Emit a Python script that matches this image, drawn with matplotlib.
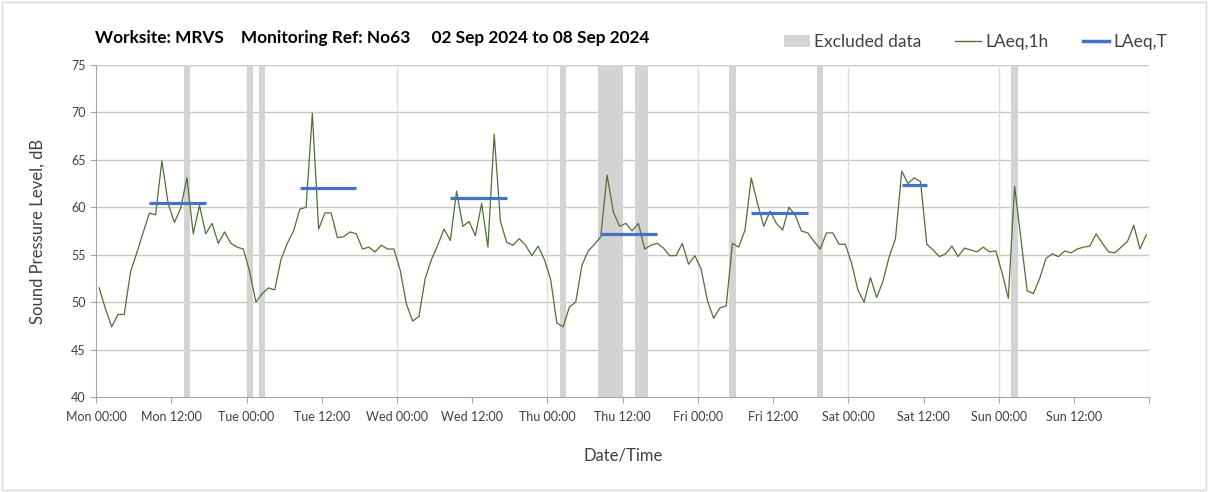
import numpy as np
import matplotlib.pyplot as plt
from matplotlib.patches import Rectangle, Patch
from matplotlib.lines import Line2D

# hourly LAeq,1h values, Mon 00:00 -> Sun 23:00
laeq_1h = [
    51.5, 49.3, 47.4, 48.7, 48.7, 53.2, 55.2, 57.3, 59.4, 59.2, 64.9, 60.4,
    58.4, 59.9, 63.1, 57.2, 60.2, 57.2, 58.3, 56.2, 57.4, 56.2, 55.8, 55.6,
    53.2, 50.0, 50.9, 51.5, 51.3, 54.5, 56.2, 57.5, 59.8, 60.0, 69.9, 57.7,
    59.4, 59.4, 56.8, 56.9, 57.4, 57.2, 55.6, 55.8, 55.3, 56.0, 55.6, 55.6,
    53.4, 49.8, 48.0, 48.5, 52.5, 54.5, 56.0, 57.7, 56.5, 61.7, 58.0, 58.5,
    57.0, 60.4, 55.8, 67.7, 58.5, 56.3, 56.0, 56.7, 56.0, 54.9, 55.9, 54.5,
    52.4, 47.8, 47.4, 49.5, 50.0, 53.9, 55.4, 56.1, 56.9, 63.4, 59.5, 58.0,
    58.3, 57.5, 58.3, 55.6, 56.0, 56.2, 55.7, 54.9, 54.9, 56.2, 54.0, 54.9,
    53.5, 50.2, 48.3, 49.4, 49.6, 56.2, 55.8, 57.6, 63.1, 60.4, 58.0, 59.6,
    58.3, 57.6, 60.0, 59.2, 57.5, 57.3, 56.4, 55.6, 57.3, 57.3, 56.1, 56.1,
    54.1, 51.3, 50.0, 52.6, 50.5, 52.2, 54.8, 56.7, 63.8, 62.5, 63.1, 62.7,
    56.1, 55.5, 54.8, 55.1, 55.9, 54.8, 55.7, 55.5, 55.3, 55.8, 55.3, 55.4,
    53.1, 50.4, 62.2, 56.7, 51.2, 50.9, 52.5, 54.6, 55.1, 54.8, 55.4, 55.2,
    55.6, 55.8, 55.9, 57.2, 56.2, 55.3, 55.2, 55.8, 56.4, 58.1, 55.6, 57.1,
]

# excluded periods (hour from Mon 00:00, length in hours)
excl_start = [14, 24, 26, 74, 80, 86, 101, 115, 146]
excl_hours = [1, 1, 1, 1, 4, 2, 1, 1, 1]

# LAeq,T daytime periods (start hour, end hour, level)
period_start = [8, 32, 56, 80, 104, 128]
period_end = [18, 42, 66, 90, 114, 133]
laeq_t = [60.4, 62.0, 61.0, 57.2, 59.4, 62.3]

tick_labels = ["Mon 00:00", "Mon 12:00", "Tue 00:00", "Tue 12:00", "Wed 00:00",
               "Wed 12:00", "Thu 00:00", "Thu 12:00", "Fri 00:00", "Fri 12:00",
               "Sat 00:00", "Sat 12:00", "Sun 00:00", "Sun 12:00"]

plt.rcParams['font.family'] = ['Lato', 'DejaVu Sans']

fig = plt.figure(figsize=(12.08, 4.92), dpi=100)
ax = fig.add_axes([0.0795, 0.193, 0.872, 0.675])

green = '#4f7133'
blue = '#4472c4'
band = '#d3d3d3'

# excluded data bars
ax.bar(excl_start, [35] * len(excl_start), width=excl_hours, bottom=40,
       align='edge', color=band, linewidth=0, zorder=1)

# hourly levels, plotted mid-hour
hours = np.arange(len(laeq_1h)) + 0.5
ax.plot(hours, laeq_1h, color=green, lw=0.9, zorder=3)

# period levels
for s, e, v in zip(period_start, period_end, laeq_t):
    ax.plot([s + 0.5, e - 0.5], [v, v], color=blue, lw=2.3,
            solid_capstyle='butt', zorder=4)

ax.set_xlim(0, 168)
ax.set_ylim(40, 75)
ax.set_xticks(np.arange(0, 169, 12))
ax.set_xticklabels(tick_labels + [""])
ax.set_yticks(np.arange(40, 76, 5))

# gridlines: horizontal every 5 dB, vertical at midnights
for y in range(45, 76, 5):
    ax.axhline(y, color='#c8c8c8', lw=1.0, zorder=0)
for d in range(24, 169, 24):
    ax.axvline(d, color='#dedede', lw=1.0, zorder=0)

for side in ['top', 'right']:
    ax.spines[side].set_visible(False)
for side in ['left', 'bottom']:
    ax.spines[side].set_color('#a6a6a6')
ax.tick_params(axis='both', colors='#a6a6a6', length=4, labelcolor='#404040',
               labelsize=9)
ax.tick_params(axis='x', pad=6)

ax.set_xlabel("Date/Time", fontsize=12, color='#404040', labelpad=18)
ax.set_ylabel("Sound Pressure Level, dB", fontsize=12, color='#404040',
              labelpad=18)

fig.text(0.079, 0.922, "Worksite: MRVS    Monitoring Ref: No63     "
         "02 Sep 2024 to 08 Sep 2024", fontsize=12.4, fontweight='bold',
         color='black', va='center')

handles = [Patch(facecolor=band, edgecolor='none'),
           Line2D([], [], color=green, lw=1),
           Line2D([], [], color=blue, lw=2.5)]
fig.legend(handles, ["Excluded data", "LAeq,1h", "LAeq,T"], ncol=3,
           loc='center right', bbox_to_anchor=(0.979, 0.915), frameon=False,
           fontsize=12.5, handlelength=1.5, handletextpad=0.25, columnspacing=1.95,
           labelcolor='#404040')

# chart border
fig.patches.append(Rectangle((0.002, 0.004), 0.996, 0.992, transform=fig.transFigure,
                             fill=False, edgecolor='#d9d9d9', lw=1))

fig.savefig("out.png", dpi=100)
